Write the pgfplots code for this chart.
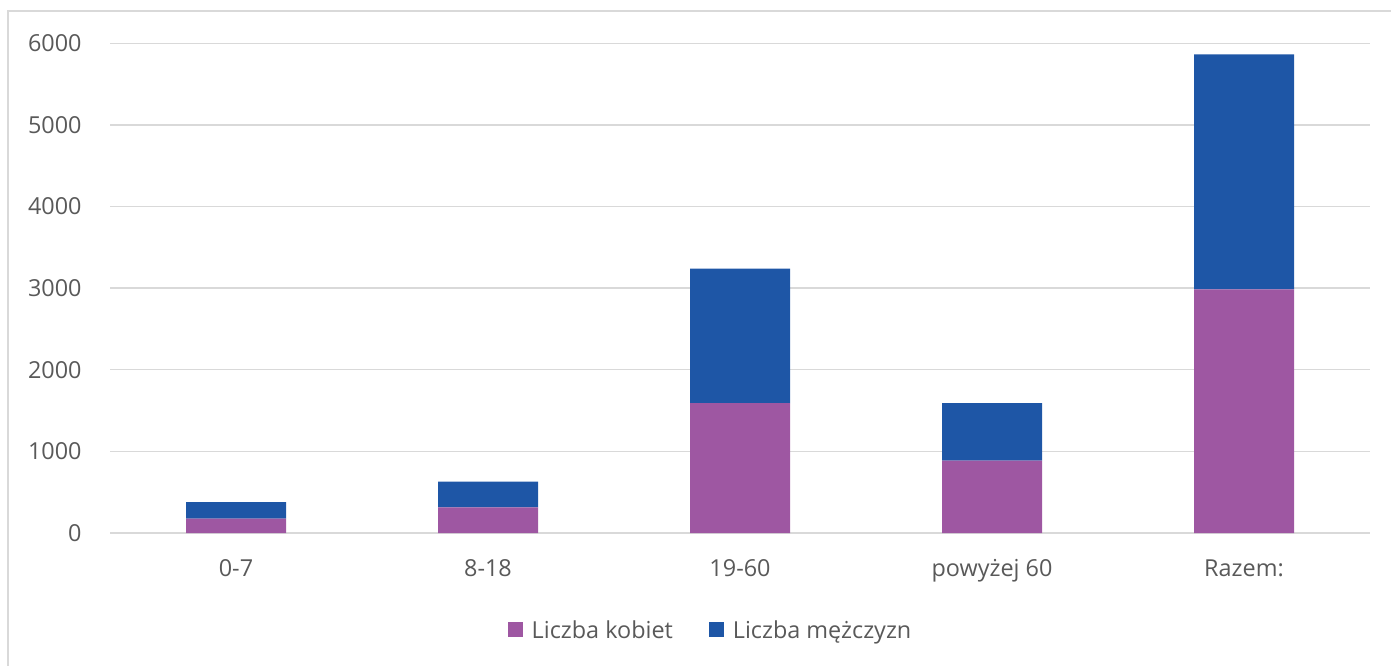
\documentclass[border=0pt]{standalone}
\usepackage{fontspec}
\setmainfont{Open Sans}
\usepackage{pgfplots}
\pgfplotsset{compat=1.18}

\definecolor{kob}{HTML}{9E57A2}
\definecolor{mez}{HTML}{1E56A6}
\definecolor{txt}{HTML}{595959}
\definecolor{grd}{HTML}{D9D9D9}

\newcommand{\lbl}{\fontsize{11.7}{14}\selectfont}

\begin{document}
\begin{tikzpicture}
\useasboundingbox (0,0) rectangle (695.5pt,332.5pt);
% chart area frame (only left and top edges are inside the picture)
\draw[grd, line width=0.8pt] (4pt,-2pt) -- (4pt,327pt) -- (700pt,327pt);
\begin{axis}[
  at={(55pt,66pt)}, anchor=south west,
  scale only axis, width=630pt, height=244.85pt,
  ybar stacked, bar width=50pt,
  xmin=-0.5, xmax=4.5, ymin=0, ymax=6000,
  xtick={0,1,2,3,4},
  xticklabels={0-7,8-18,19-60,powyżej 60,Razem:},
  ytick={0,1000,...,6000},
  axis line style={draw=none},
  major tick length=0pt,
  ymajorgrids, major grid style={grd, line width=0.7pt},
  /pgf/number format/assume math mode=true,
  /pgf/number format/1000 sep={},
  tick label style={font=\lbl, text=txt, inner sep=0pt},
  xticklabel style={anchor=base, yshift=-21.85pt},
  yticklabel style={anchor=east, xshift=-14pt},
  legend columns=2,
  legend style={at={(0.4758,-0.2001)}, anchor=center, draw=none, fill=none,
    font=\lbl, text=txt, nodes={inner sep=0pt},
    /tikz/column sep=4.5pt,
    /tikz/column 2/.style={column sep=18pt}},
  legend image code/.code={\fill[#1] (0pt,-3.2pt) rectangle (7.5pt,4.3pt);},
]
\addplot[fill=kob, draw=none] coordinates {(0,176) (1,315) (2,1591) (3,887) (4,2985)};
\addplot[fill=mez, draw=none] coordinates {(0,201) (1,315) (2,1648) (3,704) (4,2880)};
\legend{Liczba kobiet, Liczba mężczyzn}
\end{axis}
\end{tikzpicture}
\end{document}
